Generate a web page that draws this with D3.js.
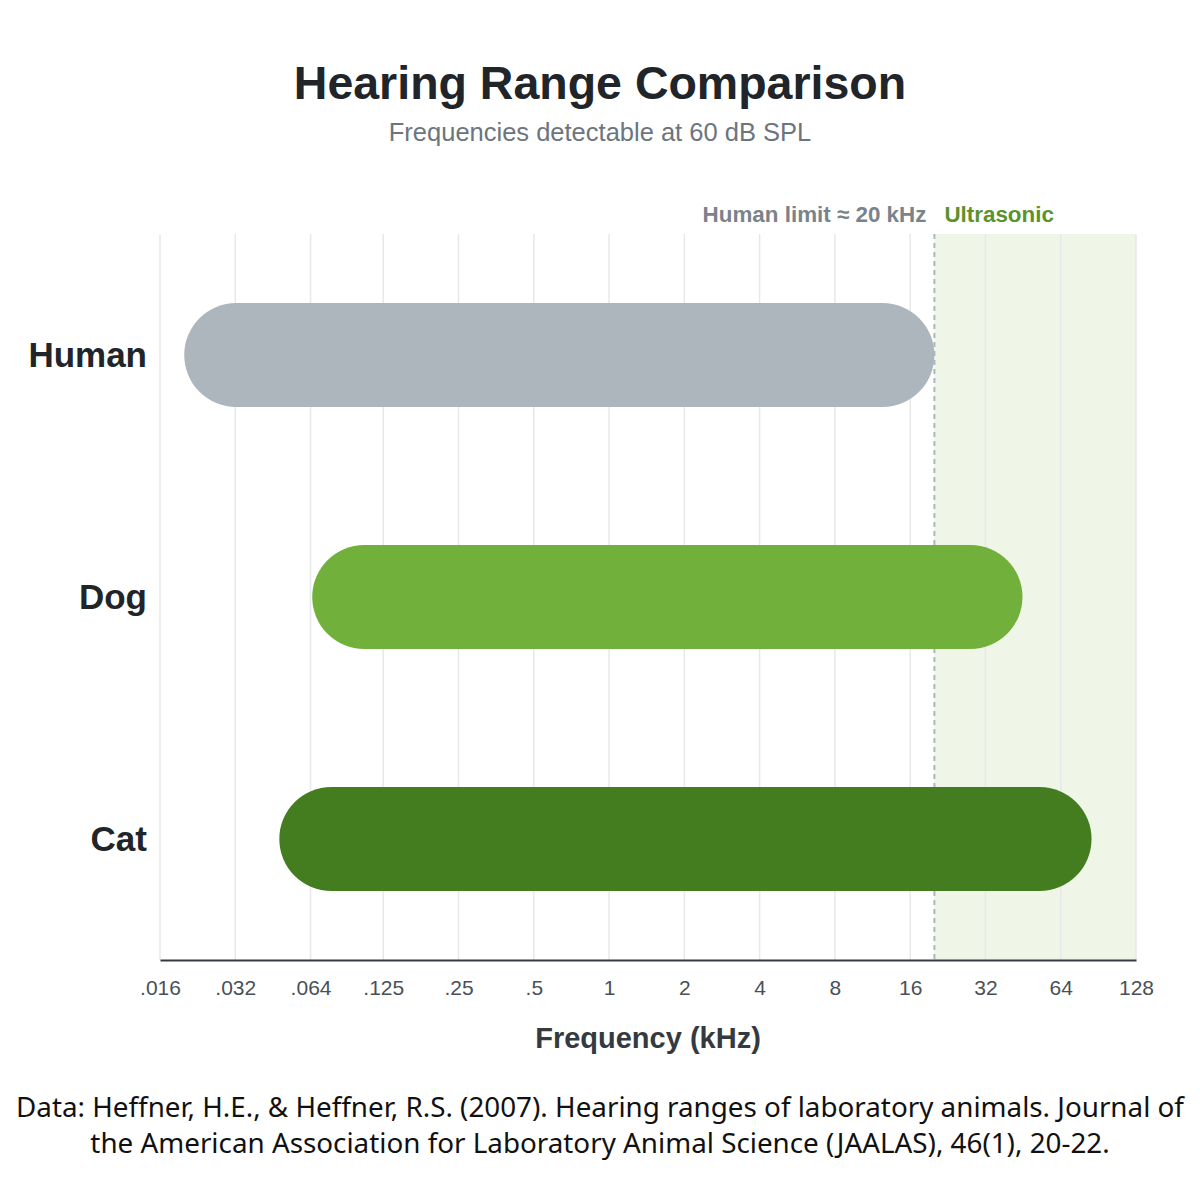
<!DOCTYPE html>
<html>
<head>
<meta charset="utf-8">
<script src="https://cdn.jsdelivr.net/npm/d3@7"></script>
<style>
  body { margin: 0; background: #fff; }
  svg { display: block; font-family: "Liberation Sans", Arial, sans-serif; }
</style>
</head>
<body>
<div id="chart"></div>
<script>
// hearing ranges in kHz
const animals = ["Human", "Dog", "Cat"];
const lowKHz = [0.02, 0.065, 0.048];
const highKHz = [20, 45, 85];
const barColors = ["#adb5bd", "#72b03c", "#437d20"];
const tickValues = [0.016, 0.032, 0.064, 0.125, 0.25, 0.5, 1, 2, 4, 8, 16, 32, 64, 128];
const tickLabels = [".016", ".032", ".064", ".125", ".25", ".5", "1", "2", "4", "8", "16", "32", "64", "128"];
const humanLimit = 20;

const data = animals.map((a, i) => ({ name: a, lo: lowKHz[i], hi: highKHz[i], color: barColors[i] }));

const width = 1200, height = 1200;
const margin = { top: 234, right: 64, bottom: 240, left: 160 };
const innerW = width - margin.left - margin.right;
const innerH = height - margin.top - margin.bottom;

const svg = d3.select("#chart")
    .append("svg")
    .attr("width", width)
    .attr("height", height);

svg.append("text")
    .attr("x", width / 2)
    .attr("y", 99)
    .attr("text-anchor", "middle")
    .style("font-size", "46.5px")
    .style("font-weight", "bold")
    .attr("fill", "#212529")
    .text("Hearing Range Comparison");

svg.append("text")
    .attr("x", width / 2)
    .attr("y", 141)
    .attr("text-anchor", "middle")
    .style("font-size", "25.5px")
    .attr("fill", "#6c757d")
    .text("Frequencies detectable at 60 dB SPL");

const g = svg.append("g")
    .attr("transform", `translate(${margin.left},${margin.top})`);

const x = d3.scaleLog()
    .base(2)
    .domain([0.016, 128])
    .range([0, innerW]);

const y = d3.scaleBand()
    .domain(animals)
    .range([0, innerH])
    .padding(0);

const barH = 104;

// ultrasonic zone
g.append("rect")
    .attr("x", x(humanLimit))
    .attr("y", 0)
    .attr("width", innerW - x(humanLimit))
    .attr("height", innerH)
    .attr("fill", "#eff6e7");

// grid
g.selectAll(".grid")
    .data(tickValues)
    .enter()
    .append("line")
    .attr("x1", d => x(d))
    .attr("x2", d => x(d))
    .attr("y1", 0)
    .attr("y2", innerH)
    .attr("stroke", "#e6e8ea")
    .attr("stroke-width", 1.5);

// human limit
g.append("line")
    .attr("x1", x(humanLimit))
    .attr("x2", x(humanLimit))
    .attr("y1", 0)
    .attr("y2", innerH)
    .attr("stroke", "#adb5bd")
    .attr("stroke-width", 2)
    .attr("stroke-dasharray", "5,4");

g.append("text")
    .attr("x", x(humanLimit) - 8)
    .attr("y", -12)
    .attr("text-anchor", "end")
    .style("font-size", "22.4px")
    .style("font-weight", "bold")
    .attr("fill", "#7a828a")
    .text("Human limit ≈ 20 kHz");

g.append("text")
    .attr("x", x(humanLimit) + 10)
    .attr("y", -12)
    .style("font-size", "22.4px")
    .style("font-weight", "bold")
    .attr("fill", "#5c922c")
    .text("Ultrasonic");

// bars
g.selectAll(".bar")
    .data(data)
    .enter()
    .append("rect")
    .attr("x", d => x(d.lo))
    .attr("y", d => y(d.name) + y.bandwidth() / 2 - barH / 2)
    .attr("width", d => x(d.hi) - x(d.lo))
    .attr("height", barH)
    .attr("rx", barH / 2)
    .attr("fill", d => d.color);

// y labels
g.selectAll(".ylab")
    .data(data)
    .enter()
    .append("text")
    .attr("x", -13)
    .attr("y", d => y(d.name) + y.bandwidth() / 2)
    .attr("dy", "0.35em")
    .attr("text-anchor", "end")
    .style("font-size", "35px")
    .style("font-weight", "bold")
    .attr("fill", "#212529")
    .text(d => d.name);

// x axis
const xAxis = g.append("g")
    .attr("transform", `translate(0,${innerH})`)
    .call(d3.axisBottom(x)
        .tickValues(tickValues)
        .tickFormat((d, i) => tickLabels[i])
        .tickSize(0)
        .tickPadding(20));

xAxis.select(".domain")
    .attr("stroke", "#343a40")
    .attr("stroke-width", 2);

xAxis.selectAll("text")
    .style("font-family", "'Liberation Sans', Arial, sans-serif")
    .style("font-size", "21px")
    .attr("fill", "#495057");

g.append("text")
    .attr("x", innerW / 2)
    .attr("y", innerH + 88)
    .attr("text-anchor", "middle")
    .style("font-size", "29px")
    .style("font-weight", "bold")
    .attr("fill", "#343a40")
    .text("Frequency (kHz)");

// source
const footer = [
    "Data: Heffner, H.E., & Heffner, R.S. (2007). Hearing ranges of laboratory animals. Journal of",
    "the American Association for Laboratory Animal Science (JAALAS), 46(1), 20-22."
];

svg.selectAll(".foot")
    .data(footer)
    .enter()
    .append("text")
    .attr("x", width / 2)
    .attr("y", (d, i) => 1117 + i * 36)
    .attr("text-anchor", "middle")
    .style("font-family", "'Noto Sans', sans-serif")
    .style("font-size", "27.8px")
    .attr("fill", "#111")
    .text(d => d);
</script>
</body>
</html>
